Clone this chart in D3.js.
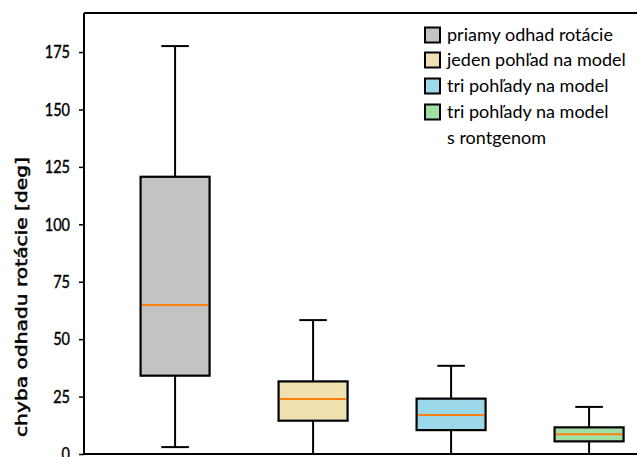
<!DOCTYPE html>
<html>
<head>
<meta charset="utf-8">
<script src="https://cdn.jsdelivr.net/npm/d3@7"></script>
<style>
  html, body { margin: 0; padding: 0; background: #fff; }
  svg { display: block; }
</style>
</head>
<body>
<script>
const categories = ["priamy odhad rotácie", "jeden pohľad na model", "tri pohľady na model", "tri pohľady na model\ns rontgenom"];
const whiskerLow  = [3.0, 0, 0, 0];
const q1          = [34.1, 14.5, 10.4, 5.5];
const median      = [64.9, 23.9, 17.0, 8.6];
const q3          = [120.7, 31.6, 24.1, 11.6];
const whiskerHigh = [177.6, 58.3, 38.4, 20.5];
const fills       = ["#c3c3c3", "#efe2b0", "#9bd9ea", "#a0e0a5"];
const yTicks      = [0, 25, 50, 75, 100, 125, 150, 175];
const yLabel      = "chyba odhadu rotácie [deg]";

(function () {
const W = 637, H = 457;
const svg = d3.select("body").append("svg").attr("width", W).attr("height", H);

const pLeft = 84, pTop = 13, pBottom = 454;
const x = d3.scaleLinear().domain([0.34, 4.66]).range([pLeft, pLeft + 4.32 * 138]);
const y = d3.scaleLinear().domain([0, 192]).range([pBottom, pTop]);

const boxW = 0.5, capW = 0.2;
const data = categories.map((c, i) => ({
  c, i, pos: i + 1, lo: whiskerLow[i], q1: q1[i], med: median[i], q3: q3[i], hi: whiskerHigh[i], fill: fills[i]
}));

const g = svg.append("g");
const bx = g.selectAll("g.box").data(data).enter().append("g").attr("class", "box");

bx.append("line").attr("x1", d => x(d.pos)).attr("x2", d => x(d.pos))
  .attr("y1", d => y(d.hi)).attr("y2", d => y(d.q3)).attr("stroke", "#000").attr("stroke-width", 2);
bx.append("line").attr("x1", d => x(d.pos)).attr("x2", d => x(d.pos))
  .attr("y1", d => y(d.lo)).attr("y2", d => y(d.q1)).attr("stroke", "#000").attr("stroke-width", 2);
bx.append("line").attr("x1", d => x(d.pos - capW / 2)).attr("x2", d => x(d.pos + capW / 2))
  .attr("y1", d => y(d.hi)).attr("y2", d => y(d.hi)).attr("stroke", "#000").attr("stroke-width", 2);
bx.append("line").attr("x1", d => x(d.pos - capW / 2)).attr("x2", d => x(d.pos + capW / 2))
  .attr("y1", d => y(d.lo)).attr("y2", d => y(d.lo)).attr("stroke", "#000").attr("stroke-width", 2);
bx.append("rect").attr("x", d => x(d.pos - boxW / 2)).attr("width", d => x(d.pos + boxW / 2) - x(d.pos - boxW / 2))
  .attr("y", d => y(d.q3)).attr("height", d => y(d.q1) - y(d.q3))
  .attr("fill", d => d.fill).attr("stroke", "#000").attr("stroke-width", 2.2);
bx.append("line").attr("x1", d => x(d.pos - boxW / 2) + 1.5).attr("x2", d => x(d.pos + boxW / 2) - 1.5)
  .attr("y1", d => y(d.med)).attr("y2", d => y(d.med)).attr("stroke", "#ff7f0e").attr("stroke-width", 2);

svg.append("line").attr("x1", pLeft).attr("x2", W).attr("y1", pTop).attr("y2", pTop).attr("stroke", "#000").attr("stroke-width", 2);
svg.append("line").attr("x1", pLeft).attr("x2", W).attr("y1", pBottom).attr("y2", pBottom).attr("stroke", "#000").attr("stroke-width", 2);

const yAxis = d3.axisLeft(y).tickValues(yTicks).tickSize(5).tickPadding(9);
const ya = svg.append("g").attr("transform", `translate(${pLeft},0)`).call(yAxis);
ya.select(".domain").attr("stroke", "#000").attr("stroke-width", 2).attr("d", `M0,${pTop}V${pBottom}`);
ya.selectAll(".tick line").attr("stroke", "#000").attr("stroke-width", 1.5);
ya.selectAll(".tick text").attr("font-family", "Lato, 'Open Sans', sans-serif").attr("font-size", 14.5)
  .attr("fill", "#000").attr("stroke", "#000").attr("stroke-width", 0.35)
  .attr("transform", "scale(1,1.25)");

svg.append("text").attr("transform", `translate(27,297) rotate(-90)`)
  .attr("text-anchor", "middle").attr("font-family", "'DejaVu Sans', sans-serif")
  .attr("font-size", 16).attr("fill", "#000").attr("stroke", "#000").attr("stroke-width", 0.5)
  .attr("textLength", 280).attr("lengthAdjust", "spacingAndGlyphs").text(yLabel);

const lg = svg.append("g").attr("transform", "translate(424,0)");
const rowY = [35, 60, 86, 112];
const items = lg.selectAll("g.item").data(data).enter().append("g").attr("class", "item")
  .attr("transform", (d, i) => `translate(0,${rowY[i]})`);
items.append("rect").attr("x", 1).attr("y", -7.5).attr("width", 15).attr("height", 15)
  .attr("fill", d => d.fill).attr("stroke", "#000").attr("stroke-width", 2);
items.each(function(d) {
  const lines = d.c.split("\n");
  const t = d3.select(this).append("text").attr("x", 23).attr("y", 0)
    .attr("font-family", "Lato, 'Open Sans', sans-serif").attr("font-size", 18).attr("fill", "#000");
  lines.forEach((ln, k) => {
    t.append("tspan").attr("x", 23).attr("dy", k === 0 ? "0.32em" : 26).text(ln);
  });
});
})();
</script>
</body>
</html>
